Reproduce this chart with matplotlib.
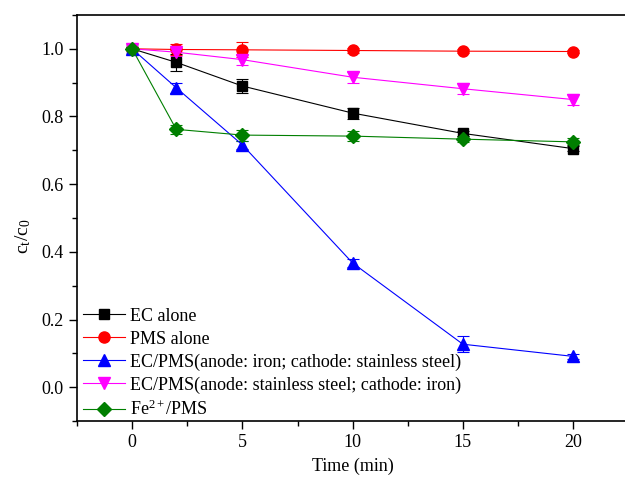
import matplotlib
matplotlib.use("Agg")
import matplotlib.pyplot as plt
from matplotlib.ticker import MultipleLocator

plt.rcParams['font.family'] = ['Liberation Serif', 'DejaVu Serif']
plt.rcParams['mathtext.fontset'] = 'custom'
plt.rcParams['mathtext.rm'] = 'Liberation Serif'
plt.rcParams['mathtext.it'] = 'Liberation Serif'

time = [0, 2, 5, 10, 15, 20]
labels = ["EC alone", "PMS alone",
          "EC/PMS(anode: iron; cathode: stainless steel)",
          "EC/PMS(anode: stainless steel; cathode: iron)",
          "Fe$^{2+}$/PMS"]
ec_alone = [1.0, 0.96, 0.89, 0.81, 0.75, 0.705]
ec_alone_err = [0.005, 0.025, 0.022, 0.016, 0.008, 0.008]
pms_alone = [1.0, 0.998, 0.997, 0.995, 0.993, 0.992]
pms_alone_err = [0.005, 0.016, 0.022, 0.006, 0.005, 0.005]
ec_pms_iron = [1.0, 0.885, 0.716, 0.367, 0.127, 0.091]
ec_pms_iron_err = [0.005, 0.015, 0.013, 0.012, 0.024, 0.008]
ec_pms_ss = [1.0, 0.99, 0.968, 0.916, 0.882, 0.85]
ec_pms_ss_err = [0.005, 0.01, 0.015, 0.016, 0.016, 0.016]
fe_pms = [1.0, 0.762, 0.745, 0.742, 0.733, 0.725]
fe_pms_err = [0.005, 0.014, 0.016, 0.015, 0.008, 0.01]

series = [ec_alone, pms_alone, ec_pms_iron, ec_pms_ss, fe_pms]
errs = [ec_alone_err, pms_alone_err, ec_pms_iron_err, ec_pms_ss_err, fe_pms_err]
markers = ['s', 'o', '^', 'v', 'D']
msizes = [7, 8, 8, 8, 7]
mcolors = ['black', '#ff0000', '#0000ff', '#ff00ff', '#007f00']

fig = plt.figure(figsize=(6.25, 4.86), dpi=100)
ax = fig.add_axes([0.1232, 0.1337, 0.882, 0.8355])

handles = []
for y, e, m, ms, mc, lab in zip(series, errs, markers, msizes, mcolors, labels):
    cont = ax.errorbar(time, y, yerr=e, color=mc, ecolor=mc, elinewidth=0.8, capsize=4,
                       capthick=0.8, marker=m, markersize=ms, linewidth=0.8, label=lab,
                       markeredgecolor=mc, markerfacecolor=mc)
    handles.append(cont[0])

ax.set_xlim(-2.5, 22.5)
ax.set_ylim(-0.1, 1.1)
ax.xaxis.set_major_locator(MultipleLocator(5))
ax.xaxis.set_minor_locator(MultipleLocator(2.5))
ax.yaxis.set_major_locator(MultipleLocator(0.2))
ax.yaxis.set_minor_locator(MultipleLocator(0.1))
ax.tick_params(which='both', direction='out', labelsize=13, width=1)
ax.tick_params(which='major', length=6)
ax.tick_params(which='minor', length=3.5)
ax.yaxis.set_major_formatter(matplotlib.ticker.FormatStrFormatter('%.1f'))
for s in ax.spines.values():
    s.set_linewidth(1.2)

ax.set_xlabel("Time (min)", fontsize=13, labelpad=5)
ax.set_ylabel("c$_\\mathregular{t}$/c$_\\mathregular{0}$", fontsize=14)
ax.yaxis.set_label_coords(-0.08, 0.456)

leg = ax.legend(handles, labels, loc='lower left', frameon=False, fontsize=13,
                handlelength=2.3, handletextpad=0.3, labelspacing=0.32,
                borderaxespad=0.1, bbox_to_anchor=(-0.005, -0.017))

fig.savefig("out.png", dpi=100)
